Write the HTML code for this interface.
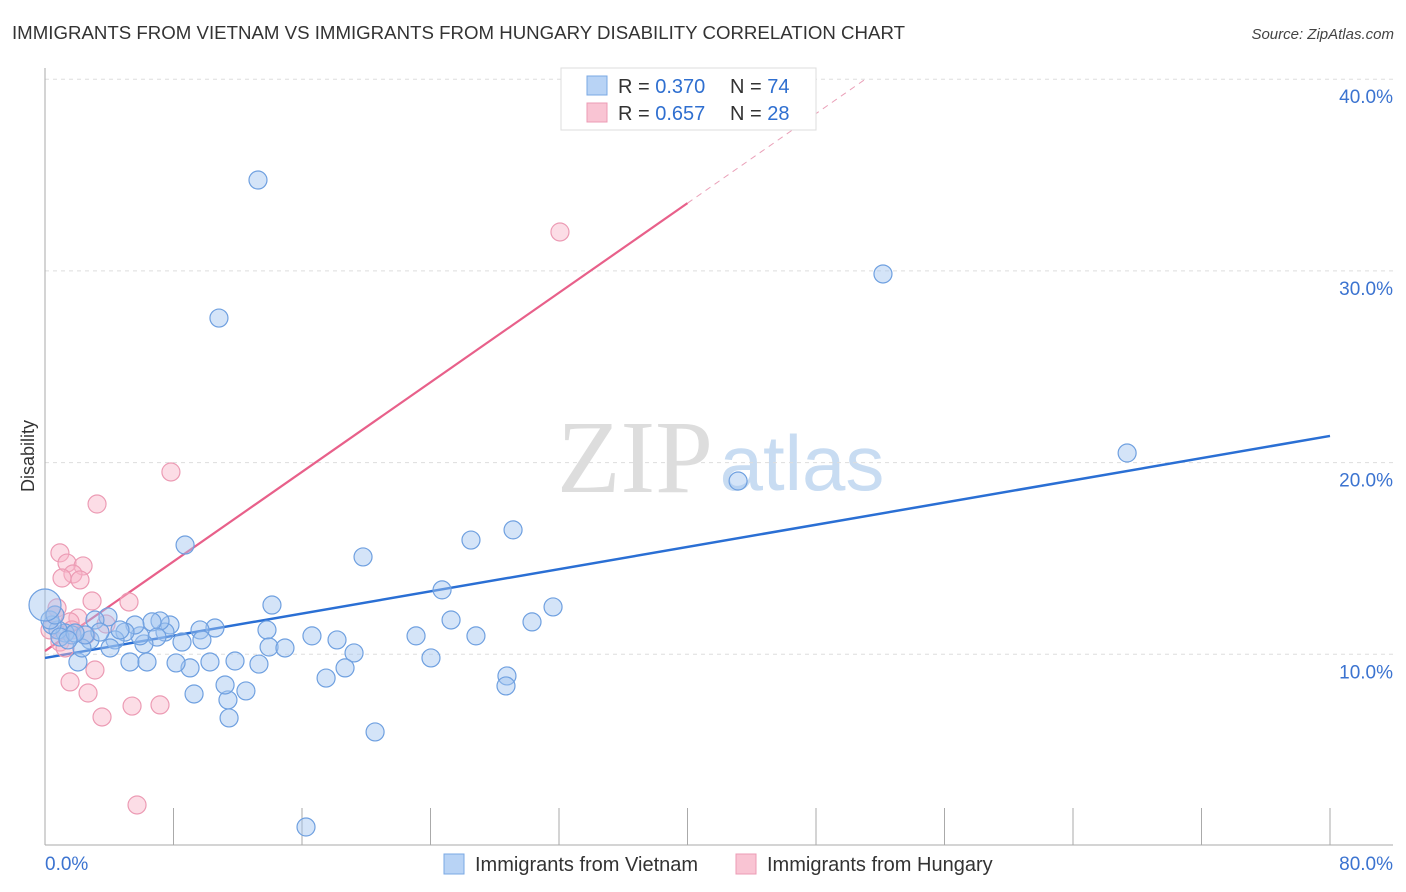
<!DOCTYPE html>
<html><head><meta charset="utf-8"><style>
body{margin:0;background:#fff;font-family:"Liberation Sans",sans-serif}
svg{display:block}
</style></head><body>
<svg id="chart" width="1406" height="892" xmlns="http://www.w3.org/2000/svg">
<text x="12" y="39" font-size="18.6" fill="#333" textLength="893" lengthAdjust="spacingAndGlyphs">IMMIGRANTS FROM VIETNAM VS IMMIGRANTS FROM HUNGARY DISABILITY CORRELATION CHART</text>
<text x="1394" y="39" font-size="15" fill="#444" font-style="italic" text-anchor="end">Source: ZipAtlas.com</text>
<text transform="translate(34,456) rotate(-90)" font-size="18" fill="#333" text-anchor="middle">Disability</text>
<g>
<text x="635" y="492" font-size="104" font-family="Liberation Serif,serif" fill="#ddd" text-anchor="middle">ZIP</text>
<text x="802" y="490" font-size="78" fill="#c8dcf2" text-anchor="middle">atlas</text>
</g>
<g id="grid"></g><g id="axes"></g><g id="lines"></g><g id="pts"></g>
<g>
<rect x="561" y="68" width="255" height="62" fill="#fff" stroke="#ddd"/>
<rect x="587" y="76" width="20" height="19" fill="#b8d3f5" stroke="#7aa8e4"/>
<rect x="587" y="103" width="20" height="19" fill="#f9c4d3" stroke="#ec9bb4"/>
<text x="618" y="93" font-size="20" fill="#333">R = <tspan fill="#2f6fd0">0.370</tspan></text>
<text x="730" y="93" font-size="20" fill="#333">N = <tspan fill="#2f6fd0">74</tspan></text>
<text x="618" y="120" font-size="20" fill="#333">R = <tspan fill="#2f6fd0">0.657</tspan></text>
<text x="730" y="120" font-size="20" fill="#333">N = <tspan fill="#2f6fd0">28</tspan></text>
</g>
<g>
<rect x="444" y="854" width="20" height="20" fill="#b8d3f5" stroke="#7aa8e4"/>
<text x="475" y="871" font-size="20" fill="#333">Immigrants from Vietnam</text>
<rect x="736" y="854" width="20" height="20" fill="#f9c4d3" stroke="#ec9bb4"/>
<text x="767" y="871" font-size="20" fill="#333">Immigrants from Hungary</text>
</g>
</svg>
<script>
const vietX=[13.26,10.83,52.17,67.37,43.15,8.72,26.52,29.14,19.80,24.72,31.63,14.13,30.32,25.28,13.82,23.10,26.83,16.62,18.18,13.95,14.94,19.24,24.03,18.68,28.76,28.70,17.50,20.55,16.25,11.46,11.39,11.21,12.51,9.28,9.03,8.16,10.27,11.83,13.32,5.29,6.35,2.05,10.58,9.65,9.77,8.53,7.78,7.47,7.16,6.66,6.97,6.16,5.91,5.60,4.98,4.36,4.05,3.92,3.11,2.80,3.42,2.30,1.68,1.25,0.81,0.44,0.31,0.62,0.93,0.0,4.67,2.49,1.87,1.43];
const vietY=[34.74,27.54,29.84,20.50,19.04,15.70,15.96,16.49,15.08,13.36,12.47,12.57,11.69,11.79,11.27,10.96,10.96,10.96,10.75,10.38,10.33,10.07,9.81,9.29,8.87,8.35,8.76,5.95,0.99,6.68,7.62,8.40,8.09,7.93,9.29,9.55,9.60,9.65,9.49,9.60,9.60,9.60,11.37,11.27,10.75,10.64,11.53,11.16,11.74,11.69,10.90,10.54,10.96,11.53,11.16,10.75,10.33,11.95,11.79,10.75,11.16,10.33,11.01,11.11,11.27,11.53,11.79,12.05,10.90,12.57,11.27,11.01,11.11,10.75];
const hungX=[32.06,7.84,3.24,0.93,1.37,2.37,1.74,1.06,2.18,2.93,5.23,0.75,0.62,2.05,1.56,3.80,1.68,2.55,0.31,0.93,1.25,1.56,2.68,3.11,3.55,5.42,7.16,5.73];
const hungY=[32.03,19.51,17.84,15.29,14.76,14.61,14.19,13.98,13.88,12.78,12.73,12.42,12.05,11.89,11.69,11.58,11.27,11.01,11.27,10.64,10.33,8.56,7.98,9.18,6.73,7.30,7.36,2.14];
const vietTrend=[9.81,21.39];
const hungTrend=[10.17,0.5841];
const yTicks=[10,20,30,40];
const yTickLabels=["10.0%","20.0%","30.0%","40.0%"];
const xTicks=[8,16,24,32,40,48,56,64,72,80];
const ns="http://www.w3.org/2000/svg";
const X=v=>45+v/80*1285, Y=v=>846-v*19.17;
function mk(p,t,a){const e=document.createElementNS(ns,t);for(const k in a)e.setAttribute(k,a[k]);p.appendChild(e);return e;}
const g=document.getElementById('grid'),ax=document.getElementById('axes'),ln=document.getElementById('lines'),pts=document.getElementById('pts');
yTicks.forEach((t,i)=>{
 const l=mk(g,'line',{x1:45,x2:1393,y1:Y(t),y2:Y(t),stroke:'#ddd','stroke-dasharray':'4,4'});
 
 
 const tx=mk(ax,'text',{x:1393,y:Y(t)+24,'font-size':19,fill:'#3b73d0','text-anchor':'end'});
 tx.textContent=yTickLabels[i];
 
 
});
let a=mk(ax,'line',{x1:45,x2:1393,y1:845,y2:845,stroke:'#aaa'});


a=mk(ax,'line',{x1:45,x2:45,y1:68,y2:845,stroke:'#aaa'});


xTicks.forEach(t=>{const l=mk(ax,'line',{x1:X(t),x2:X(t),y1:808,y2:845,stroke:'#aaa'});
 
 });
let t1=mk(ax,'text',{x:45,y:870,'font-size':19,fill:'#3b73d0'});t1.textContent='0.0%';


t1=mk(ax,'text',{x:1393,y:870,'font-size':19,fill:'#3b73d0','text-anchor':'end'});t1.textContent='80.0%';


function dots(xs,ys,fill,stroke,name){xs.forEach((x,i)=>{const big=(name==='vietnam-point'&&x===0);
 const c=mk(pts,'circle',{cx:X(x),cy:Y(ys[i]),r:big?16:9,fill:fill,stroke:stroke,'stroke-width':1.2});
 
 });}
dots(hungX,hungY,'rgba(248,180,200,0.45)','#ec9bb4','hungary-point');
dots(vietX,vietY,'rgba(160,196,240,0.45)','#6fa0e0','vietnam-point');
let L=mk(ln,'line',{x1:X(0),y1:Y(vietTrend[0]),x2:X(80),y2:Y(vietTrend[1]),stroke:'#2a6fd4','stroke-width':2.5});


L=mk(ln,'line',{x1:X(0),y1:Y(hungTrend[0]),x2:X(40),y2:Y(hungTrend[0]+40*hungTrend[1]),stroke:'#e8608a','stroke-width':2.2});


const xe=(40-hungTrend[0])/hungTrend[1];
L=mk(ln,'line',{x1:X(40),y1:Y(hungTrend[0]+40*hungTrend[1]),x2:X(xe),y2:Y(40),stroke:'#eaa0b8','stroke-width':1,'stroke-dasharray':'6,5'});


</script>
</body></html>
